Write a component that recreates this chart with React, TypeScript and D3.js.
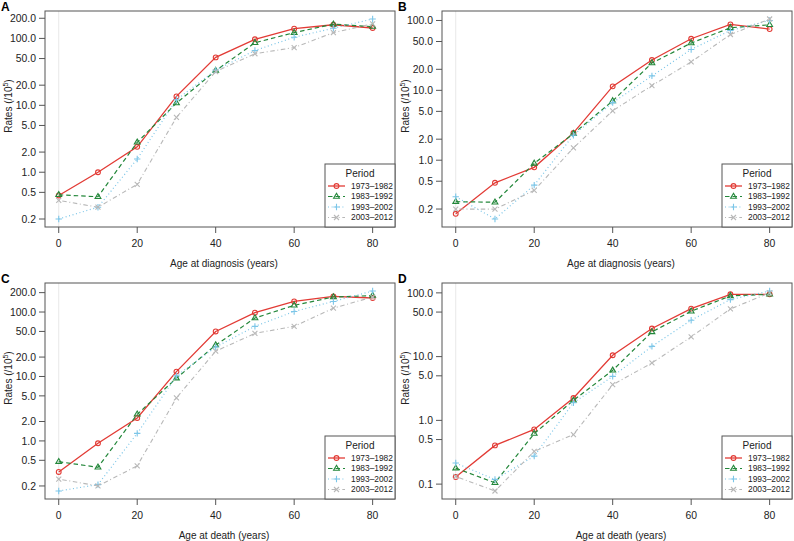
import React from 'react';
import * as d3 from 'd3';

// ages on the x axis, shared by all four panels
const ages = [0, 10, 20, 30, 40, 50, 60, 70, 80];
const periods = ['1973–1982', '1983–1992', '1993–2002', '2003–2012'];

// A: age at diagnosis
const aP1 = [0.45, 1.0, 2.4, 13.6, 52, 97, 140, 160, 143];
const aP2 = [0.46, 0.43, 2.8, 10.8, 33, 86, 122, 163, 150];
const aP3 = [0.2, 0.3, 1.58, 12.1, 33.6, 66, 104, 142, 195];
const aP4 = [0.38, 0.3, 0.66, 6.6, 32, 59, 73, 122, 165];

// B: age at diagnosis
const bP1 = [0.171, 0.475, 0.79, 2.46, 11.4, 27.2, 54.8, 87.7, 75.3];
const bP2 = [0.255, 0.25, 0.9, 2.4, 7.06, 24.6, 47.5, 78.7, 86.8];
const bP3 = [0.3, 0.144, 0.44, 2.28, 6.67, 16.1, 38.5, 72, 100];
const bP4 = [0.2, 0.199, 0.37, 1.5, 5.1, 11.7, 25.5, 63, 105];

// C: age at death
const cP1 = [0.33, 0.92, 2.27, 11.9, 50, 97.7, 146, 175, 165];
const cP2 = [0.476, 0.39, 2.59, 9.4, 30.7, 80.7, 127, 171, 180];
const cP3 = [0.167, 0.21, 1.31, 10.2, 28.6, 60, 102, 146, 212];
const cP4 = [0.256, 0.2, 0.41, 4.65, 24.7, 46.6, 60, 115, 171];

// D: age at death
const dP1 = [0.129, 0.405, 0.72, 2.24, 10.5, 27.6, 56.7, 95, 95];
const dP2 = [0.178, 0.105, 0.62, 2.06, 6.1, 24.4, 51.5, 89.7, 95];
const dP3 = [0.214, 0.118, 0.275, 1.89, 4.9, 14.5, 37.3, 78.5, 107];
const dP4 = [0.132, 0.078, 0.326, 0.6, 3.63, 7.95, 20.4, 56, 100];

const xTicks = [0, 20, 40, 60, 80];
const xLimits = [-3.5, 85.7];
const yTicksWide = [0.2, 0.5, 1, 2, 5, 10, 20, 50, 100, 200];
const yTicksD = [0.1, 0.5, 1, 5, 10, 50, 100];

const colors = ['#e23b35', '#23873a', '#7cc6e8', '#b8b8b8'];
const dashes = [null, '4.5,3', '1,2.6', '1,2.6,4.5,2.6'];
const widths = [1.3, 1.2, 1.2, 1.1];

const FONT = 'Liberation Sans, Arial, Helvetica, sans-serif';

const panels = [
  { key: 'A', x0: 45, y0: 11, series: [aP1, aP2, aP3, aP4], ticks: yTicksWide, xTitle: 'Age at diagnosis (years)' },
  { key: 'B', x0: 442, y0: 11, series: [bP1, bP2, bP3, bP4], ticks: yTicksWide, xTitle: 'Age at diagnosis  (years)' },
  { key: 'C', x0: 45, y0: 283, series: [cP1, cP2, cP3, cP4], ticks: yTicksWide, xTitle: 'Age at death (years)' },
  { key: 'D', x0: 442, y0: 283, series: [dP1, dP2, dP3, dP4], ticks: yTicksD, xTitle: 'Age at death  (years)' },
];

const BOX_W = 350;
const BOX_H = 216;

const Marker = ({ kind, x, y, color }) => {
  if (kind === 0) return <circle cx={x} cy={y} r={2.4} fill="none" stroke={color} strokeWidth={1.1} />;
  if (kind === 1)
    return (
      <path
        d={`M${x},${y - 3.2}L${x + 2.9},${y + 1.7}L${x - 2.9},${y + 1.7}Z`}
        fill="none"
        stroke={color}
        strokeWidth={1.1}
      />
    );
  if (kind === 2)
    return <path d={`M${x - 3.2},${y}H${x + 3.2}M${x},${y - 3.2}V${y + 3.2}`} stroke={color} strokeWidth={1.1} />;
  return (
    <path
      d={`M${x - 2.5},${y - 2.5}L${x + 2.5},${y + 2.5}M${x - 2.5},${y + 2.5}L${x + 2.5},${y - 2.5}`}
      stroke={color}
      strokeWidth={1.1}
    />
  );
};

const Panel = ({ cfg }) => {
  const { x0, y0, series, ticks, xTitle, key } = cfg;
  const x1 = x0 + BOX_W;
  const y1 = y0 + BOX_H;

  // R style: data range in log space, widened 4% each side
  const all = series.flat().map((v) => Math.log10(v));
  const [lo, hi] = d3.extent(all);
  const pad = (hi - lo) * 0.04;
  const y = d3
    .scaleLog()
    .domain([Math.pow(10, lo - pad), Math.pow(10, hi + pad)])
    .range([y1, y0]);
  const x = d3.scaleLinear().domain(xLimits).range([x0, x1]);
  const fmt = d3.format('.1f');
  const [dLo, dHi] = y.domain();
  const yTicks = ticks.filter((t) => t >= dLo && t <= dHi);

  const line = d3
    .line()
    .x((d) => x(d[0]))
    .y((d) => y(d[1]));

  const lx = x1 - 70;
  const ly = y1 - 63;
  const yMid = (y0 + y1) / 2 - 13;

  return (
    <g>
      <text x={x0 - 44} y={y0 - 0.5} fontSize={12} fontWeight="bold" fontFamily={FONT}>
        {key}
      </text>
      <line x1={x(0)} x2={x(0)} y1={y0} y2={y1} stroke="#e8e8e8" strokeWidth={1} />
      {series.map((vals, i) => (
        <g key={i}>
          <path
            d={line(ages.map((a, j) => [a, vals[j]]))}
            fill="none"
            stroke={colors[i]}
            strokeWidth={widths[i]}
            strokeDasharray={dashes[i] || undefined}
          />
          {ages.map((a, j) => (
            <Marker key={j} kind={i} x={x(a)} y={y(vals[j])} color={colors[i]} />
          ))}
        </g>
      ))}
      <rect x={x0} y={y0} width={BOX_W} height={BOX_H} fill="none" stroke="#555" strokeWidth={1} />
      {yTicks.map((t) => (
        <g key={t}>
          <line x1={x0 - 6} x2={x0} y1={y(t)} y2={y(t)} stroke="#555" />
          <text
            x={x0 - 9}
            y={y(t)}
            dy="0.35em"
            textAnchor="end"
            fontSize={10.4}
            fontFamily={FONT}
            fill="#222"
          >
            {fmt(t)}
          </text>
        </g>
      ))}
      {xTicks.map((t) => (
        <g key={t}>
          <line x1={x(t)} x2={x(t)} y1={y1} y2={y1 + 6} stroke="#555" />
          <text x={x(t)} y={y1 + 20} textAnchor="middle" fontSize={10.4} fontFamily={FONT} fill="#222">
            {t}
          </text>
        </g>
      ))}
      <text x={(x0 + x1) / 2 + 4} y={y1 + 40} textAnchor="middle" fontSize={10} fontFamily={FONT} fill="#222">
        {xTitle}
      </text>
      <text
        transform={`translate(${x0 - 33},${yMid}) rotate(-90)`}
        textAnchor="middle"
        fontSize={10}
        fontFamily={FONT}
        fill="#222"
      >
        Rates (/10
        <tspan dy={-4} fontSize={7}>
          5
        </tspan>
        <tspan dy={4}>)</tspan>
      </text>
      <rect x={lx} y={ly} width={70} height={63} fill="white" stroke="#555" strokeWidth={1} />
      <text x={lx + 35} y={ly + 13} textAnchor="middle" fontSize={10} fontFamily={FONT} fill="#222">
        Period
      </text>
      {periods.map((p, i) => {
        const cy = ly + 22 + i * 10.5;
        return (
          <g key={p}>
            <line
              x1={lx + 3}
              x2={lx + 20}
              y1={cy}
              y2={cy}
              stroke={colors[i]}
              strokeWidth={widths[i]}
              strokeDasharray={dashes[i] || undefined}
            />
            <Marker kind={i} x={lx + 11.5} y={cy} color={colors[i]} />
            <text x={lx + 26} y={cy} dy="0.35em" fontSize={8.4} fontFamily={FONT} fill="#222">
              {p}
            </text>
          </g>
        );
      })}
    </g>
  );
};

export default function App() {
  return (
    <svg
      width={794}
      height={541}
      style={{ position: 'absolute', left: 0, top: 0, background: 'white' }}
    >
      <rect width={794} height={541} fill="white" />
      {panels.map((p) => (
        <Panel key={p.key} cfg={p} />
      ))}
    </svg>
  );
}
